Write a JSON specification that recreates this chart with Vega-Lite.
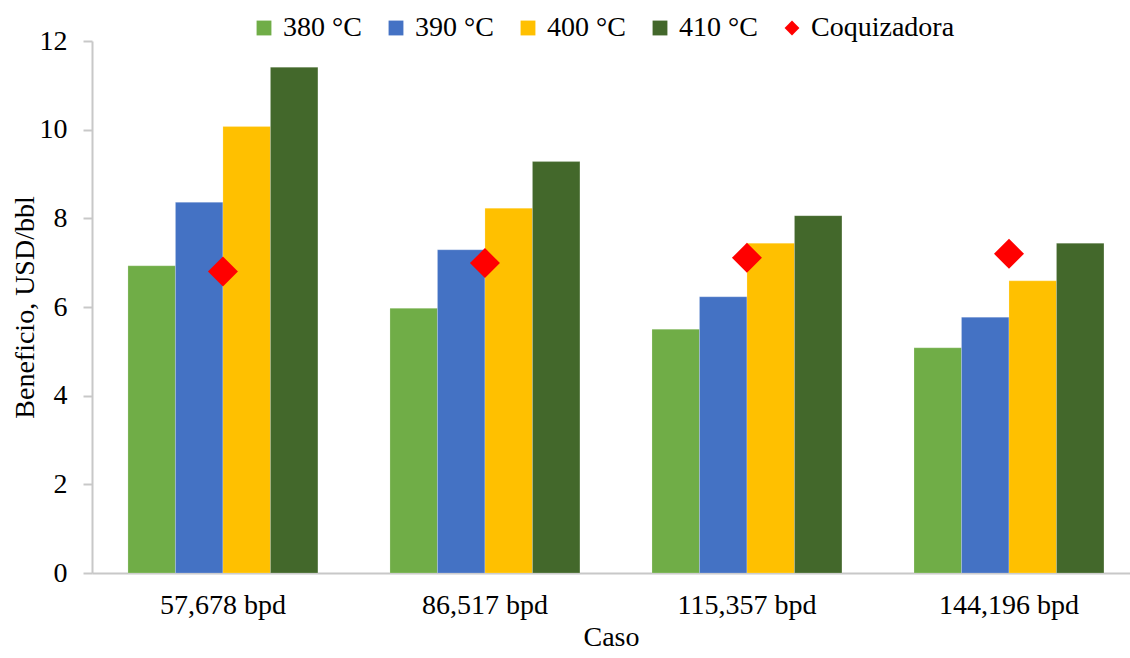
{
  "$schema": "https://vega.github.io/schema/vega-lite/v6.json",
  "autosize": "none",
  "width": 1038,
  "height": 532,
  "padding": {"left": 92, "top": 41, "right": 0, "bottom": 85},
  "background": "white",
  "config": {
    "font": "Liberation Serif",
    "view": {"stroke": null},
    "axis": {"labelFont": "Liberation Serif", "titleFont": "Liberation Serif", "labelColor": "#000000", "titleColor": "#000000", "labelFontSize": 28, "titleFontSize": 28, "titleFontWeight": "normal", "grid": false},
    "legend": {"labelFont": "Liberation Serif", "labelFontSize": 28, "labelColor": "#000000"}
  },
  "data": {
    "values": [
      {"caso": "57,678 bpd", "serie": "380 °C", "valor": 6.93},
      {"caso": "57,678 bpd", "serie": "390 °C", "valor": 8.36},
      {"caso": "57,678 bpd", "serie": "400 °C", "valor": 10.07},
      {"caso": "57,678 bpd", "serie": "410 °C", "valor": 11.41},
      {"caso": "57,678 bpd", "serie": "Coquizadora", "valor": 6.8},
      {"caso": "86,517 bpd", "serie": "380 °C", "valor": 5.97},
      {"caso": "86,517 bpd", "serie": "390 °C", "valor": 7.29},
      {"caso": "86,517 bpd", "serie": "400 °C", "valor": 8.23},
      {"caso": "86,517 bpd", "serie": "410 °C", "valor": 9.28},
      {"caso": "86,517 bpd", "serie": "Coquizadora", "valor": 6.99},
      {"caso": "115,357 bpd", "serie": "380 °C", "valor": 5.5},
      {"caso": "115,357 bpd", "serie": "390 °C", "valor": 6.23},
      {"caso": "115,357 bpd", "serie": "400 °C", "valor": 7.44},
      {"caso": "115,357 bpd", "serie": "410 °C", "valor": 8.06},
      {"caso": "115,357 bpd", "serie": "Coquizadora", "valor": 7.11},
      {"caso": "144,196 bpd", "serie": "380 °C", "valor": 5.08},
      {"caso": "144,196 bpd", "serie": "390 °C", "valor": 5.77},
      {"caso": "144,196 bpd", "serie": "400 °C", "valor": 6.59},
      {"caso": "144,196 bpd", "serie": "410 °C", "valor": 7.44},
      {"caso": "144,196 bpd", "serie": "Coquizadora", "valor": 7.2}
    ]
  },
  "encoding": {
    "x": {
      "field": "caso", "type": "nominal", "sort": null, "title": "Caso",
      "scale": {"paddingInner": 0.275, "paddingOuter": 0.1183, "align": 0.58},
      "axis": {"labelAngle": 0, "ticks": false, "domainColor": "#c8c8c8", "domainWidth": 2, "labelPadding": 18, "titleY": 72, "titleBaseline": "alphabetic"}
    },
    "y": {
      "field": "valor", "type": "quantitative", "title": "Beneficio, USD/bbl",
      "scale": {"domain": [0, 12], "nice": false},
      "axis": {"values": [0, 2, 4, 6, 8, 10, 12], "domainColor": "#c8c8c8", "domainWidth": 2, "tickColor": "#c8c8c8", "tickWidth": 2, "tickSize": 9, "labelPadding": 16, "titleX": -59, "titleY": 266, "titleBaseline": "alphabetic", "titleAngle": 270, "titleAlign": "center"}
    }
  },
  "layer": [
    {
      "transform": [{"filter": "datum.serie !== 'Coquizadora'"}],
      "mark": {"type": "bar", "stroke": "#ffffff", "strokeOpacity": 0.4, "strokeWidth": 0.5},
      "encoding": {
        "xOffset": {"field": "serie", "type": "nominal", "sort": ["380 °C", "390 °C", "400 °C", "410 °C"], "scale": {"paddingInner": 0, "paddingOuter": 0}},
        "color": {
          "field": "serie", "type": "nominal", "title": null,
          "scale": {"domain": ["380 °C", "390 °C", "400 °C", "410 °C", "Coquizadora"], "range": ["#70AD47", "#4472C4", "#FFC000", "#43682B", "#FF0000"]},
          "legend": {"orient": "none", "legendX": 158, "legendY": -27, "direction": "horizontal", "columns": 5, "symbolSize": 220, "labelOffset": 5, "columnPadding": 20, "symbolStrokeWidth": 0}
        }
      }
    },
    {
      "transform": [{"filter": "datum.serie === 'Coquizadora'"}],
      "mark": {"type": "point", "filled": true, "size": 900, "opacity": 1},
      "encoding": {
        "color": {"field": "serie", "type": "nominal", "title": null},
        "shape": {
          "field": "serie", "type": "nominal", "title": null,
          "scale": {"domain": ["380 °C", "390 °C", "400 °C", "410 °C", "Coquizadora"], "range": ["square", "square", "square", "square", "diamond"]},
          "legend": {"orient": "none", "legendX": 158, "legendY": -27, "direction": "horizontal", "columns": 5, "symbolSize": 220, "labelOffset": 5, "columnPadding": 20, "symbolStrokeWidth": 0}
        }
      }
    }
  ]
}
